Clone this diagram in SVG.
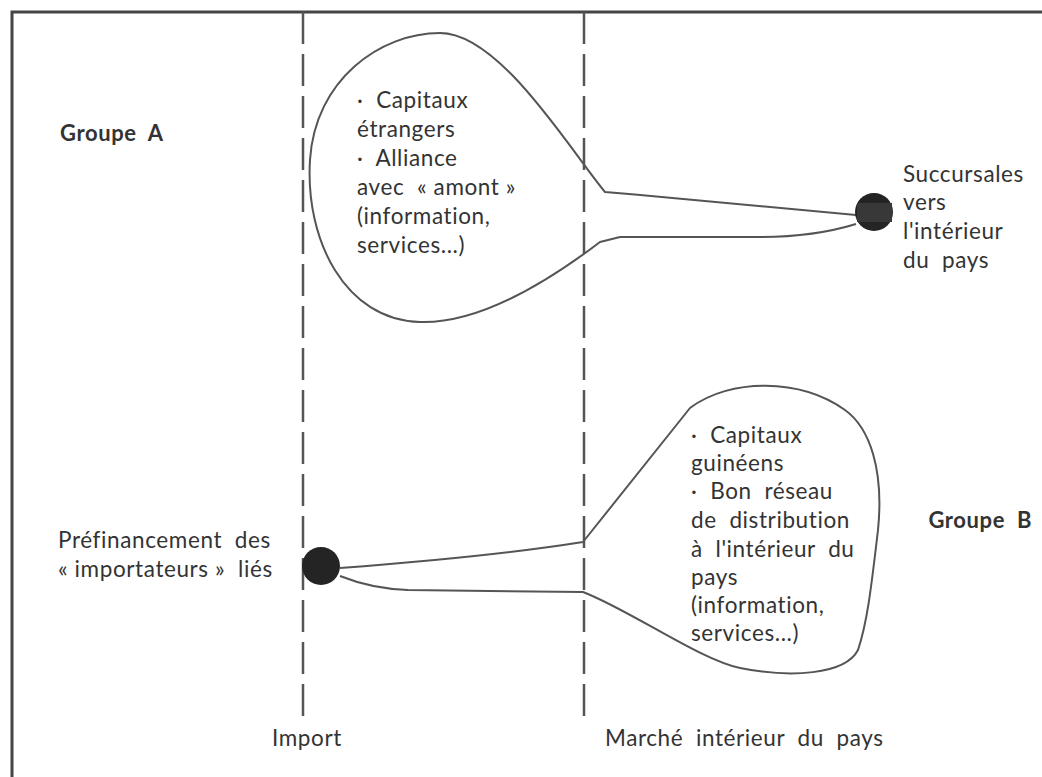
<svg xmlns="http://www.w3.org/2000/svg" width="1042" height="777" viewBox="0 0 1042 777">
  <defs>
    <style>
      .frame { fill: none; stroke: #444; stroke-width: 3; }
      .divider { fill: none; stroke: #555; stroke-width: 2.5; stroke-dasharray: 32 10; }
      .bubble { fill: none; stroke: #555; stroke-width: 2; stroke-linejoin: round; }
      .hub { fill: #242424; }
      .hub-core { fill: #383838; }
      text { font-family: Lato, "Open Sans", sans-serif; font-size: 22.5px; fill: #333; letter-spacing: 0.6px; }
      .group { font-weight: bold; font-size: 22px; }
    </style>
  </defs>
  <rect x="0" y="0" width="1042" height="777" fill="#fff"/>

  <!-- outer frame: top and left edges only -->
  <path class="frame" d="M12,777 L12,12 L1042,12"/>

  <!-- dashed column dividers -->
  <g id="dividers">
    <line class="divider" x1="303" y1="12" x2="303" y2="722"/>
    <line class="divider" x1="584" y1="12" x2="584" y2="725"/>
  </g>

  <!-- connectors: the two racket-shaped outlines -->
  <g id="connectors">
    <path id="outline-a" class="bubble" d="M856,215 C800,210 700,200 605,192 C570,150 500,33 440,33 C380,33 315,80 310,160 C305,240 345,320 420,322 C480,324 550,280 600,242 L620,237 L760,237 C800,237 830,232 856,224"/>
    <path id="outline-b" class="bubble" d="M340,568 C420,562 520,552 583,542 L690,408 C730,378 800,378 845,410 C870,428 884,470 878,530 C872,580 868,620 858,650 C845,675 790,678 740,668 C700,660 630,610 583,592 L408,590 C380,589 360,584 340,576"/>
  </g>

  <g id="group-a">
    <text class="group" x="60" y="141">Groupe&#160; A</text>
  </g>

  <g id="bubble-a-text">
    <text x="357" y="108">·&#160; Capitaux</text>
    <text x="357" y="137">étrangers</text>
    <text x="357" y="166">·&#160; Alliance</text>
    <text x="357" y="195">avec&#160; « amont »</text>
    <text x="357" y="224">(information,</text>
    <text x="357" y="253">services...)</text>
  </g>

  <g id="hub-a">
    <circle class="hub" cx="874" cy="212" r="19"/>
    <rect class="hub-core" x="857" y="203" width="35" height="19"/>
  </g>

  <g id="succursales">
    <text x="903" y="182">Succursales</text>
    <text x="903" y="210">vers</text>
    <text x="903" y="239">l'intérieur</text>
    <text x="903" y="268">du&#160; pays</text>
  </g>

  <g id="hub-b">
    <circle class="hub" cx="321" cy="566" r="19"/>
  </g>

  <g id="prefinancement">
    <text x="58" y="548">Préfinancement&#160; des</text>
    <text x="58" y="577">« importateurs »&#160; liés</text>
  </g>

  <g id="bubble-b-text">
    <text x="691" y="443">·&#160; Capitaux</text>
    <text x="691" y="471">guinéens</text>
    <text x="691" y="499">·&#160; Bon&#160; réseau</text>
    <text x="691" y="528">de&#160; distribution</text>
    <text x="691" y="557">à&#160; l'intérieur&#160; du</text>
    <text x="691" y="585">pays</text>
    <text x="691" y="613">(information,</text>
    <text x="691" y="641">services...)</text>
  </g>

  <g id="group-b">
    <text class="group" x="1032" y="528" text-anchor="end">Groupe&#160; B</text>
  </g>

  <g id="axis-labels">
    <text x="272" y="746">Import</text>
    <text x="605" y="746">Marché&#160; intérieur&#160; du&#160; pays</text>
  </g>
</svg>
